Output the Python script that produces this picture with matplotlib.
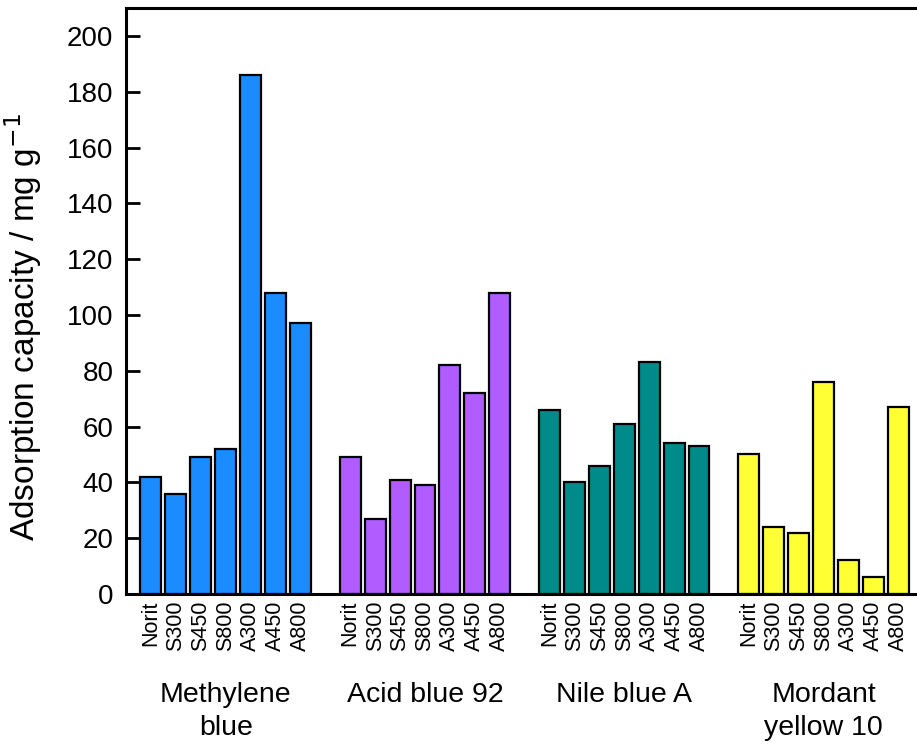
import numpy as np
import matplotlib
matplotlib.use("Agg")
import matplotlib.pyplot as plt
import matplotlib.transforms as mtransforms

# --------- DATA ---------
dyes = ["Methylene\nblue", "Acid blue 92", "Nile blue A", "Mordant\nyellow 10"]
adsorbents = ["Norit", "S300", "S450", "S800", "A300", "A450", "A800"]

methylene_blue = [42, 36, 49, 52, 186, 108, 97]
acid_blue_92 = [49, 27, 41, 39, 82, 72, 108]
nile_blue_a = [66, 40, 46, 61, 83, 54, 53]
mordant_yellow_10 = [50, 24, 22, 76, 12, 6, 67]

colors = ["#1a8cff", "#b15cff", "#008b8b", "#ffff33"]
# ------------------------

plt.rcParams["font.family"] = ["Liberation Sans", "DejaVu Sans"]

fig = plt.figure(figsize=(9.17, 7.46), dpi=100)
ax = fig.add_axes([0.1374, 0.2038, 0.8966, 0.7855])

series = [methylene_blue, acid_blue_92, nile_blue_a, mordant_yellow_10]
xticks, xlabels = [], []
for g, (vals, col) in enumerate(zip(series, colors)):
    x = 1 + g * 8 + np.arange(len(vals))
    ax.bar(x, vals, width=0.84, color=col, edgecolor="black", linewidth=1.6)
    xticks.extend(x)
    xlabels.extend(adsorbents)

ax.set_xlim(0, 33)
ax.set_ylim(0, 210)
ax.set_yticks(np.arange(0, 201, 20))
ax.set_xticks(xticks)
ax.set_xticklabels(xlabels, rotation=90, fontsize=15.5)
ax.tick_params(axis="x", length=0, pad=5)
ax.tick_params(axis="y", direction="in", length=10, width=2, labelsize=20, pad=9)

for side in ["left", "bottom", "top"]:
    ax.spines[side].set_linewidth(2.2)
ax.spines["right"].set_visible(False)

ax.set_ylabel("Adsorption capacity / mg g$^{-1}$", fontsize=24)
ax.yaxis.set_label_coords(-0.1, 0.455)

# dye names under each group of bars
trans = mtransforms.blended_transform_factory(ax.transData, ax.transAxes)
for g, name in enumerate(dyes):
    xc = 1 + g * 8 + 3
    ax.text(xc, -0.15, name, transform=trans, ha="center", va="top",
            fontsize=20.5, linespacing=1.35)

fig.savefig("out.png", dpi=100)
